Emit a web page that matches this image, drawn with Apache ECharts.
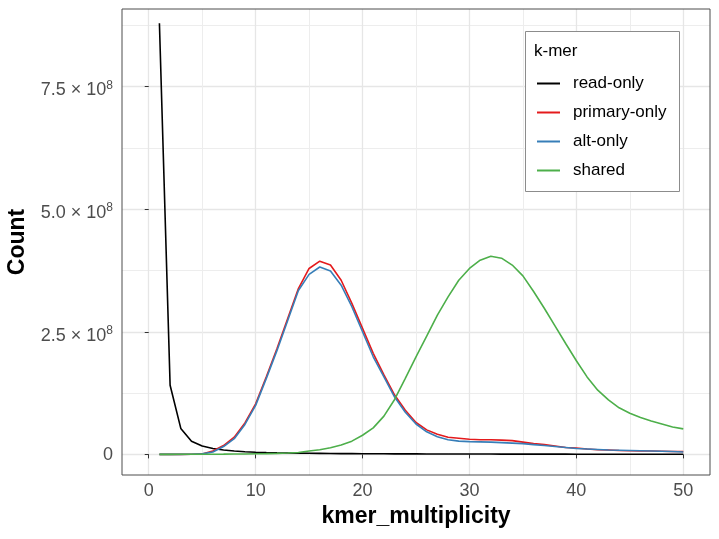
<!DOCTYPE html>
<html>
<head>
<meta charset="utf-8">
<script src="https://cdn.jsdelivr.net/npm/echarts@6/dist/echarts.min.js"></script>
<style>html,body{margin:0;padding:0;background:#fff}#c{width:719px;height:539px}</style>
</head>
<body>
<div id="c"></div>
<script>
const kmerMultiplicity = [1,2,3,4,5,6,7,8,9,10,11,12,13,14,15,16,17,18,19,20,21,22,23,24,25,26,27,28,29,30,31,32,33,34,35,36,37,38,39,40,41,42,43,44,45,46,47,48,49,50];
// counts in units of 1e8
const readOnly = [8.79,1.41,0.53,0.27,0.17,0.12,0.09,0.07,0.055,0.045,0.038,0.032,0.028,0.025,0.022,0.02,0.018,0.016,0.015,0.014,0.013,0.012,0.011,0.010,0.010,0.009,0.009,0.008,0.008,0.007,0.007,0.007,0.006,0.006,0.006,0.005,0.005,0.005,0.005,0.004,0.004,0.004,0.004,0.004,0.003,0.003,0.003,0.003,0.003,0.003];
const primaryOnly = [0.0,0.0,0.001,0.003,0.01,0.07,0.18,0.35,0.64,1.03,1.58,2.16,2.77,3.38,3.79,3.94,3.86,3.55,3.08,2.57,2.06,1.62,1.21,0.90,0.65,0.50,0.41,0.35,0.33,0.31,0.30,0.30,0.29,0.28,0.25,0.22,0.20,0.17,0.14,0.13,0.11,0.095,0.09,0.08,0.075,0.07,0.07,0.065,0.06,0.06];
const altOnly = [0.0,0.0,0.001,0.003,0.01,0.05,0.16,0.32,0.61,1.00,1.55,2.12,2.73,3.34,3.67,3.82,3.74,3.45,3.01,2.50,1.99,1.58,1.17,0.86,0.62,0.46,0.36,0.30,0.27,0.26,0.255,0.25,0.24,0.23,0.22,0.20,0.18,0.16,0.14,0.12,0.11,0.10,0.09,0.085,0.08,0.075,0.07,0.065,0.06,0.05];
const shared = [0.001,0.001,0.002,0.002,0.003,0.004,0.005,0.007,0.009,0.012,0.015,0.02,0.027,0.04,0.07,0.095,0.136,0.19,0.27,0.39,0.54,0.78,1.12,1.55,1.99,2.41,2.84,3.21,3.55,3.79,3.96,4.04,4.00,3.86,3.64,3.32,2.98,2.62,2.26,1.91,1.58,1.31,1.11,0.95,0.84,0.75,0.68,0.62,0.56,0.52];

const seriesNames = ['read-only','primary-only','alt-only','shared'];
const seriesColors = ['#000000','#E41A1C','#377EB8','#4DAF4A'];
const seriesValues = [readOnly, primaryOnly, altOnly, shared];

const xMajorTicks = [0,10,20,30,40,50];
const xMinorTicks = [5,15,25,35,45];
const yMajorTicks = [0,2.5e8,5e8,7.5e8];
const yMajorMantissa = ['0','2.5','5.0','7.5'];
const yMinorTicks = [1.25e8,3.75e8,6.25e8,8.75e8];

const FONT = '"Liberation Sans", Arial, sans-serif';
const chart = echarts.init(document.getElementById('c'), null, {renderer:'canvas'});

const series = seriesNames.map((n,i)=>({
  name:n, type:'line', xAxisIndex:0, yAxisIndex:0,
  data: kmerMultiplicity.map((x,j)=>[x, seriesValues[i][j]*1e8]),
  showSymbol:false, symbol:'none', smooth:false,
  lineStyle:{color:seriesColors[i], width:1.6},
  itemStyle:{color:seriesColors[i]},
  z: 3+i, animation:false
}));

chart.setOption({
  animation:false,
  backgroundColor:'#fff',
  grid:{left:122, right:9, top:9, bottom:64, show:true, borderColor:'#4d4d4d', borderWidth:1, z:10},
  xAxis:[
    {type:'value', min:-2.5, max:52.5, position:'bottom',
     axisLine:{show:false},
     axisTick:{show:true, length:4, lineStyle:{color:'#333'}, customValues:xMajorTicks},
     axisLabel:{customValues:xMajorTicks, color:'#4d4d4d', fontSize:18, fontFamily:FONT, margin:7},
     splitLine:{show:true, lineStyle:{color:'#E6E6E6', width:1.3}}},
    {type:'value', min:-2.5, max:52.5, position:'top',
     axisLine:{show:false}, axisTick:{show:false, customValues:xMinorTicks},
     axisLabel:{show:false, customValues:xMinorTicks},
     splitLine:{show:true, lineStyle:{color:'#EDEDED', width:1}}}
  ],
  yAxis:[
    {type:'value', min:-0.42e8, max:9.08e8, position:'left',
     axisLine:{show:false},
     axisTick:{show:true, length:4, lineStyle:{color:'#333'}, customValues:yMajorTicks},
     axisLabel:{customValues:yMajorTicks, margin:9, padding:[8,0,0,0],
       formatter:(v)=>{const i=yMajorTicks.indexOf(v); const m=yMajorMantissa[i]; return v===0?'{z|0}':'{b|'+m+' × 10}{s|8}';},
       rich:{b:{color:'#4d4d4d', fontSize:18, fontFamily:FONT},
             z:{color:'#4d4d4d', fontSize:18, fontFamily:FONT, padding:[0,0,7,0]},
             s:{color:'#4d4d4d', fontSize:12, fontFamily:FONT, verticalAlign:'bottom', padding:[0,0,10,0]}}},
     splitLine:{show:true, lineStyle:{color:'#E6E6E6', width:1.3}}},
    {type:'value', min:-0.42e8, max:9.08e8, position:'right',
     axisLine:{show:false}, axisTick:{show:false, customValues:yMinorTicks},
     axisLabel:{show:false, customValues:yMinorTicks},
     splitLine:{show:true, lineStyle:{color:'#EDEDED', width:1}}}
  ],
  legend:{
    data:seriesNames, orient:'vertical', left:532, top:70,
    icon:'rect', itemWidth:23, itemHeight:2, itemGap:12,
    textStyle:{color:'#000', fontSize:17, fontFamily:FONT, lineHeight:17, padding:[0,0,0,8]},
    selectedMode:false, z:20
  },
  graphic:[
    {type:'rect', shape:{x:525.5, y:31.5, width:154, height:160}, style:{fill:'#fff', stroke:'#8c8c8c', lineWidth:1}, z:15},
    {type:'text', x:534, y:51, style:{text:'k-mer', fill:'#000', font:'17px '+FONT, verticalAlign:'middle'}, z:20},
    {type:'text', x:416, y:517, style:{text:'kmer_multiplicity', fill:'#000', font:'bold 23px '+FONT, align:'center', verticalAlign:'middle'}, z:20},
    {type:'text', x:18, y:242, rotation:Math.PI/2, style:{text:'Count', fill:'#000', font:'bold 23px '+FONT, align:'center', verticalAlign:'middle'}, z:20}
  ],
  series
});
</script>
</body>
</html>
